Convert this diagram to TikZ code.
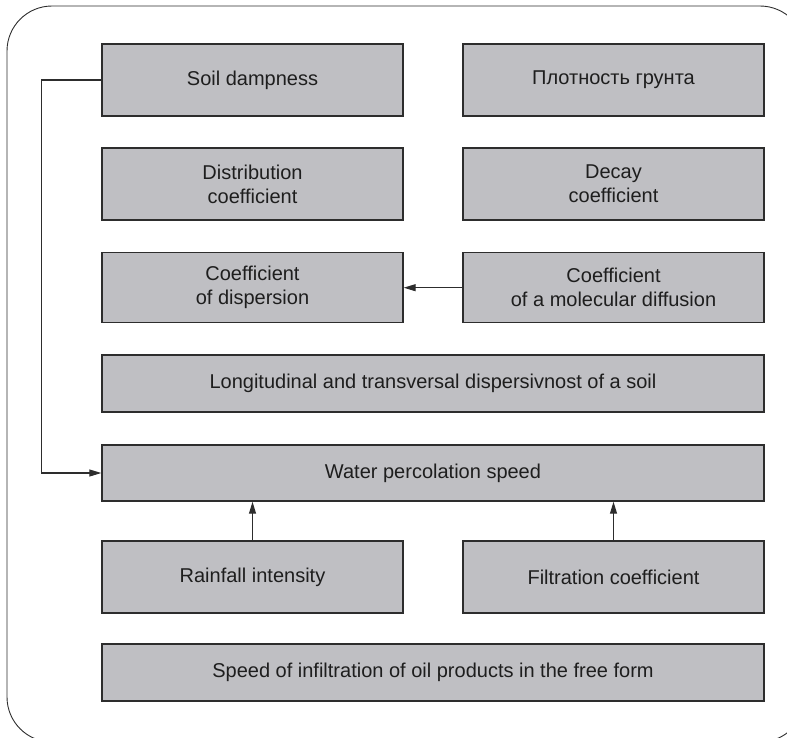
\documentclass[tikz,border=0pt]{standalone}
\usepackage{fontspec}
\setmainfont{Liberation Sans}
\usetikzlibrary{arrows.meta}
\definecolor{soilgray}{RGB}{191, 191, 195}
\definecolor{soildark}{RGB}{45, 45, 45}
\definecolor{soiltext}{RGB}{30, 30, 30}

\tikzset{
  factor/.style={draw=soildark, fill=soilgray, line width=1.4pt, rectangle,
    minimum width=301pt, minimum height=72pt, align=center, text=soiltext,
    font=\fontsize{20}{24}\selectfont, inner sep=0pt},
  wide/.style={factor, minimum width=662pt},
  link/.style={draw=soildark, line width=1.1pt, -{Triangle[length=12pt,width=7pt]}}
}

\begin{document}
\begin{tikzpicture}[x=1pt, y=-1pt]
    \clip (0,0) rectangle (787,737);
    % frame
    \draw[soildark, line width=0.9pt, rounded corners=45pt] (7,6) rectangle (805,742);

    % soil properties
    \node[factor] (damp) at (252.5,80) {Soil dampness};
    \node[factor] (dens) at (613.5,80) {Плотность грунта};

    % coefficients
    \node[factor] (distr) at (252.5,184) {Distribution\\coefficient};
    \node[factor] (decay) at (613.5,184) {Decay\\coefficient};
    \node[factor, minimum height=70pt] (disp) at (252.5,287.7) {Coefficient\\of dispersion};
    \node[factor, minimum height=70pt] (molec) at (613.5,287.7) {Coefficient\\of a molecular diffusion};

    % wide rows
    \node[wide, minimum height=57pt] (longit) at (433,383.5) {Longitudinal and transversal dispersivnost of a soil};
    \node[wide, minimum height=56pt] (water) at (433,473) {Water percolation speed};

    % inputs to percolation
    \node[factor] (rain) at (252.5,577) {Rainfall intensity};
    \node[factor] (filtr) at (613.5,577) {Filtration coefficient};

    % oil products
    \node[wide, minimum height=57pt] (oil) at (433,672.5) {Speed of infiltration of oil products in the free form};

    % links
    \draw[link] (damp.west) -- ++(-60,0) |- (water.west);
    \draw[link] (molec.west) -- (disp.east);
    \draw[link] (rain.north) -- (rain.north |- water.south);
    \draw[link] (filtr.north) -- (filtr.north |- water.south);
\end{tikzpicture}
\end{document}
